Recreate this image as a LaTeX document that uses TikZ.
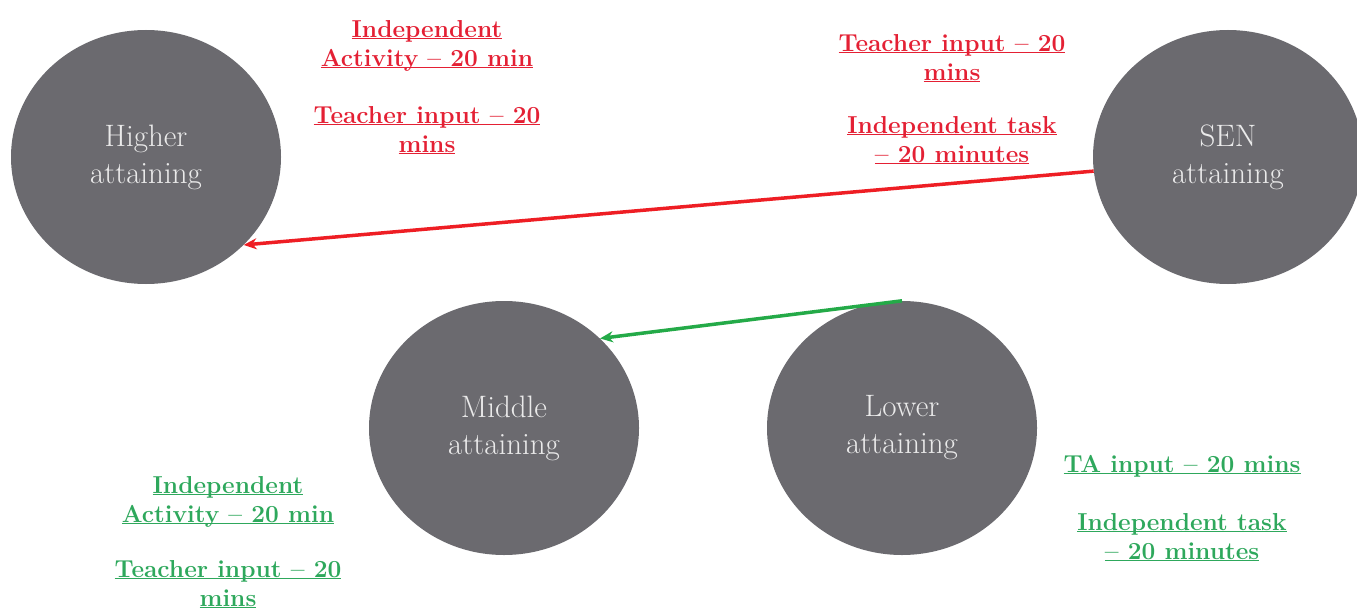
\documentclass[tikz,border=0pt]{standalone}
\usetikzlibrary{shapes.geometric,arrows.meta}

\definecolor{disc}{RGB}{107,106,111}
\definecolor{disctext}{RGB}{234,234,234}
\definecolor{redtxt}{RGB}{228,32,52}
\definecolor{redline}{RGB}{238,30,36}
\definecolor{greentxt}{RGB}{46,168,92}
\definecolor{greenline}{RGB}{36,170,72}

% underline at a fixed distance below the baseline
\newcommand\ulline[1]{\underline{\smash{#1}}}

\begin{document}
\begin{tikzpicture}[x=1pt,y=-1pt,
  group/.style={ellipse, fill=disc, draw=none, minimum width=270pt,
    minimum height=254pt, inner sep=0pt, align=center, text=disctext,
    font=\fontsize{31}{37}\selectfont},
  note/.style={anchor=north, inner sep=0pt, align=center,
    font=\fontsize{24.5}{29}\selectfont\bfseries},
  rednote/.style={note, text=redtxt},
  greennote/.style={note, text=greentxt},
  link/.style={line width=3.5pt, -{Stealth[length=13pt,width=11pt]}}]

\fill[white] (0,0) rectangle (1357,610);
\useasboundingbox (0,0) rectangle (1357,610);

% groups
\node[group] (hi)  at (146,157)  {Higher\\attaining};
\node[group] (sen) at (1228,157) {SEN\\attaining};
\node[group] (mid) at (504,428)  {Middle\\attaining};
\node[group] (lo)  at (902,428)  {Lower\\attaining};

% rotations
\draw[link, redline]   (sen.186) -- (hi.318);
\draw[link, greenline] (lo.north) -- (mid.43);

% timings, top groups (smashed lines: north sits on the first baseline)
\node[rednote] (hiA) at (427,37)
  {\ulline{Independent}\\\ulline{Activity – 20 min}};
\node[rednote] (hiB) at (427,123)
  {\ulline{Teacher input – 20}\\\ulline{mins}};
\node[rednote] (senA) at (952,51)
  {\ulline{Teacher input – 20}\\\ulline{mins}};
\node[rednote] (senB) at (952,133)
  {\ulline{Independent task}\\\ulline{– 20 minutes}};

% timings, bottom groups
\node[greennote] (midA) at (228,493)
  {\ulline{Independent}\\\ulline{Activity – 20 min}};
\node[greennote] (midB) at (228,577)
  {\ulline{Teacher input – 20}\\\ulline{mins}};
\node[greennote] (loA) at (1182,472)
  {\ulline{TA input – 20 mins}};
\node[greennote] (loB) at (1182,530)
  {\ulline{Independent task}\\\ulline{– 20 minutes}};
\end{tikzpicture}
\end{document}
